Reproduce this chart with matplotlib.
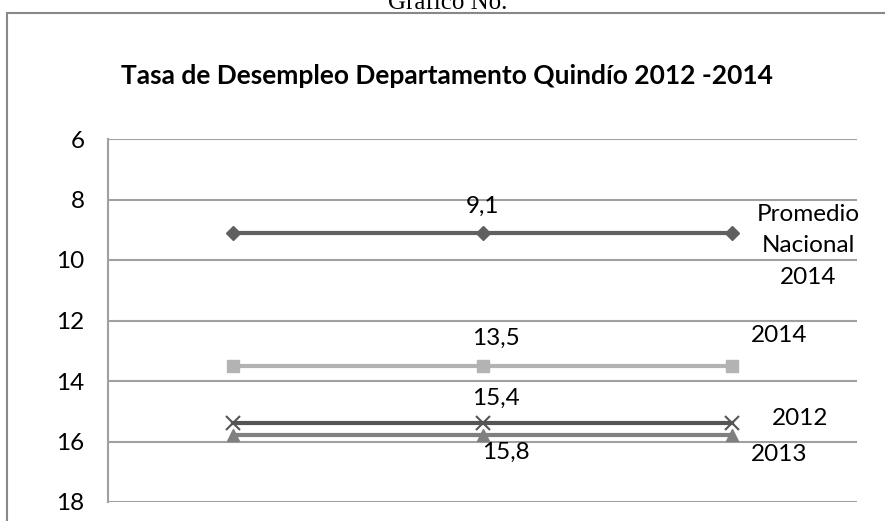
import matplotlib.pyplot as plt
from matplotlib.patches import Rectangle

# datos
categorias = ["A", "B", "C"]
promedio_nacional = [9.1, 9.1, 9.1]
serie_2014 = [13.5, 13.5, 13.5]
serie_2012 = [15.4, 15.4, 15.4]
serie_2013 = [15.8, 15.8, 15.8]
yticks = [6, 8, 10, 12, 14, 16, 18]

plt.rcParams['font.family'] = ['Lato', 'DejaVu Sans']
FS = 17.5

fig = plt.figure(figsize=(8.85, 5.21), dpi=100)
# marco exterior
fig.patches.append(Rectangle((7 / 885, -0.1), 1.0, 1 - 13 / 521 + 0.1, transform=fig.transFigure,
                             fill=False, edgecolor='#888888', linewidth=1.5))
fig.text(448 / 885, 1 - 9 / 521, "Gráfico No.", ha='center', va='baseline',
         family='Liberation Serif', fontsize=18)

ax = fig.add_axes([108 / 885, 1 - 502 / 521, (857 - 108) / 885, (502 - 139) / 521])
x = [0.5, 1.5, 2.5]

ax.plot(x, promedio_nacional, color='#606060', lw=3, marker='D', ms=7)
ax.plot(x, serie_2014, color='#b3b3b3', lw=3, marker='s', ms=9)
ax.plot(x, serie_2013, color='#808080', lw=3, marker='^', ms=9)
ax.plot(x, serie_2012, color='#555555', lw=3, marker='x', ms=10, mew=1.5)

ax.set_xlim(0, 3)
ax.set_ylim(18, 6)
ax.set_yticks(yticks)
ax.set_xticks([])
ax.tick_params(axis='y', length=0, labelsize=FS, pad=17)
ax.grid(axis='y', color='#a0a0a0', lw=1.5)
for s in ['top', 'right', 'bottom']:
    ax.spines[s].set_visible(False)
ax.spines['left'].set_color('#a0a0a0')
ax.spines['left'].set_linewidth(1.5)

def etiqueta(v):
    return f"{v:.1f}".replace('.', ',')

# etiquetas de datos
ax.annotate(etiqueta(promedio_nacional[1]), (x[1], promedio_nacional[1]),
            xytext=(0, 19), textcoords='offset points', ha='center', va='center', fontsize=FS)
ax.annotate(etiqueta(serie_2014[1]), (x[1], serie_2014[1]),
            xytext=(10, 20), textcoords='offset points', ha='center', va='center', fontsize=FS)
ax.annotate(etiqueta(serie_2012[1]), (x[1], serie_2012[1]),
            xytext=(10, 18), textcoords='offset points', ha='center', va='center', fontsize=FS)
ax.annotate(etiqueta(serie_2013[1]), (x[1], serie_2013[1]),
            xytext=(17, -12), textcoords='offset points', ha='center', va='center', fontsize=FS)

# nombres de series
ax.annotate("Promedio\nNacional\n2014", (x[2], promedio_nacional[2]), xytext=(55, -9.5),
            textcoords='offset points', ha='center', va='center', fontsize=FS,
            multialignment='center', linespacing=1.62)
ax.annotate("2014", (x[2], serie_2014[2]), xytext=(34, 22), textcoords='offset points',
            ha='center', va='center', fontsize=FS)
ax.annotate("2012", (x[2], serie_2012[2]), xytext=(49, 3.6), textcoords='offset points',
            ha='center', va='center', fontsize=FS)
ax.annotate("2013", (x[2], serie_2013[2]), xytext=(34, -14), textcoords='offset points',
            ha='center', va='center', fontsize=FS)

fig.text(447 / 885, 1 - 76 / 521, "Tasa de Desempleo Departamento Quindío 2012 -2014",
         ha='center', va='center', fontsize=19, fontweight='bold')

fig.savefig("out.png", dpi=100)
